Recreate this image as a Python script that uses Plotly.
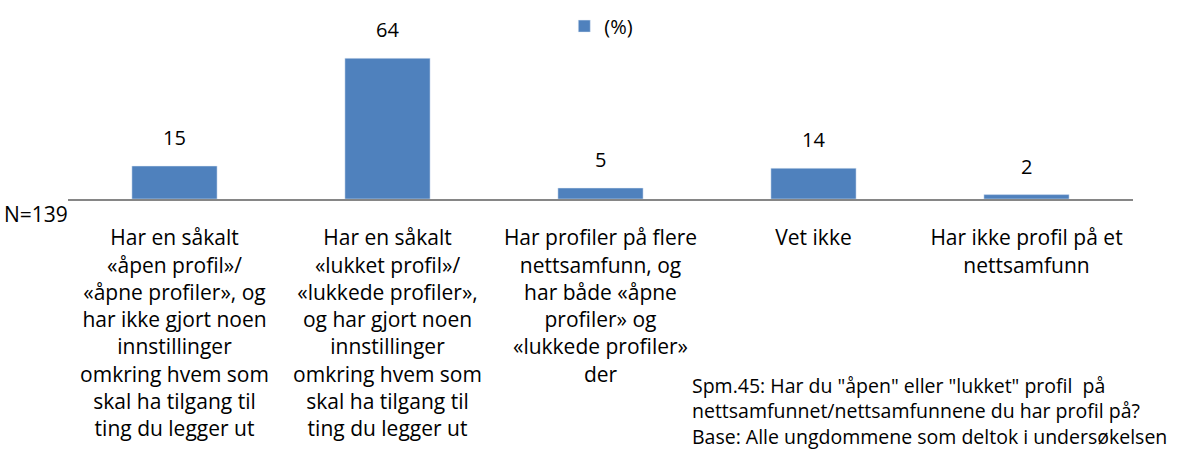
import plotly.graph_objects as go

categories = [
    "Har en såkalt<br>«åpen profil»/<br>«åpne profiler», og<br>har ikke gjort noen<br>innstillinger<br>omkring hvem som<br>skal ha tilgang til<br>ting du legger ut",
    "Har en såkalt<br>«lukket profil»/<br>«lukkede profiler»,<br>og har gjort noen<br>innstillinger<br>omkring hvem som<br>skal ha tilgang til<br>ting du legger ut",
    "Har profiler på flere<br>nettsamfunn, og<br>har både «åpne<br>profiler» og<br>«lukkede profiler»<br>der",
    "Vet ikke",
    "Har ikke profil på et<br>nettsamfunn",
]
values = [15, 64, 5, 14, 2]
series_name = "(%)"
note_n = "N=139"
footnote = ('Spm.45: Har du "åpen" eller "lukket" profil  på<br>'
            'nettsamfunnet/nettsamfunnene du har profil på?<br>'
            'Base: Alle ungdommene som deltok i undersøkelsen')

FONT = "'Open Sans', sans-serif"
BAR = "#4F81BD"

x = list(range(len(categories)))

fig = go.Figure()
fig.add_trace(go.Bar(
    x=x, y=values, name=series_name, marker_color=BAR,
    width=0.4, showlegend=True,
))

# value labels above each bar
for xi, v in zip(x, values):
    fig.add_annotation(x=xi, y=v, text=str(v), showarrow=False,
                       yanchor="bottom", yshift=13,
                       font=dict(family=FONT, size=20, color="#000"))

fig.add_annotation(xref="paper", yref="paper", x=-0.062, y=0, text=note_n,
                   showarrow=False, xanchor="left", yanchor="top", yshift=1,
                   font=dict(family=FONT, size=21, color="#000"))

fig.add_annotation(xref="paper", yref="paper", x=0.584, y=-0.955, text=footnote,
                   showarrow=False, xanchor="left", yanchor="top", align="left",
                   font=dict(family=FONT, size=19.5, color="#000"))

fig.update_layout(
    width=1200, height=473,
    margin=dict(l=68, r=67, t=20, b=274, autoexpand=False),
    plot_bgcolor="white", paper_bgcolor="white",
    font=dict(family=FONT, color="#000"),
    bargap=0.6,
    legend=dict(orientation="h", x=0.466, y=0.966, xanchor="left", yanchor="middle",
                font=dict(family=FONT, size=20), itemwidth=30,
                bgcolor="rgba(0,0,0,0)"),
    xaxis=dict(
        range=[-0.5, 4.5], tickmode="array", tickvals=x, ticktext=categories,
        showline=True, linecolor="#868686", linewidth=2, ticks="",
        showgrid=False, zeroline=False, tickangle=0, ticklabelstandoff=19,
        tickfont=dict(family=FONT, size=21, color="#000"),
    ),
    yaxis=dict(range=[0, 81.4], visible=False, showgrid=False, zeroline=False),
)

fig.write_html("out.html")
